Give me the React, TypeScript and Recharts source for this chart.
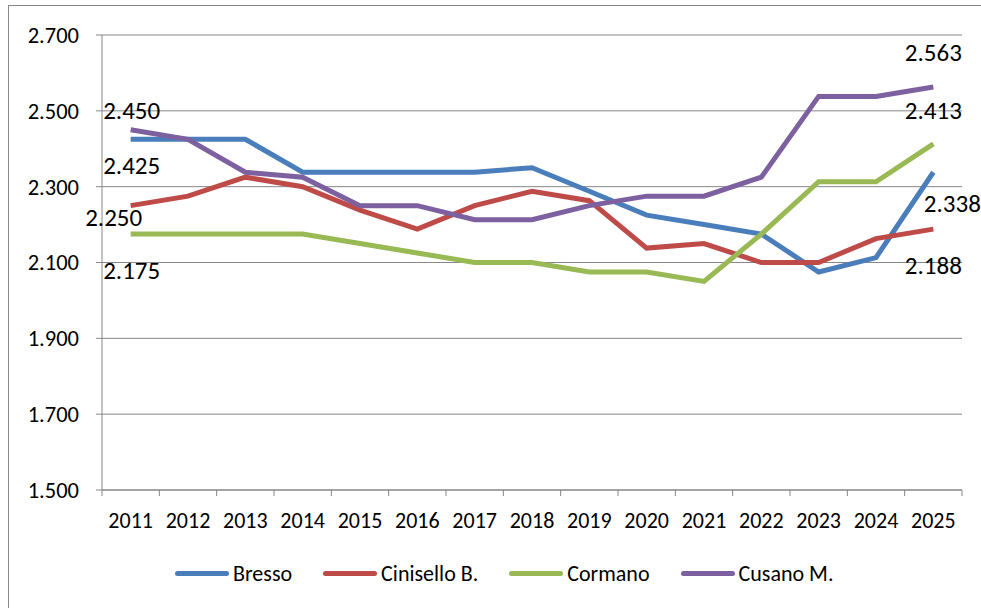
import React from 'react';
import { LineChart, Line, XAxis, YAxis, CartesianGrid, Legend, LabelList } from 'recharts';

const years = ['2011', '2012', '2013', '2014', '2015', '2016', '2017', '2018', '2019', '2020', '2021', '2022', '2023', '2024', '2025'];

const bresso = [2.425, 2.425, 2.425, 2.338, 2.338, 2.338, 2.338, 2.35, 2.288, 2.225, 2.2, 2.175, 2.075, 2.113, 2.338];
const cinisello = [2.25, 2.275, 2.325, 2.3, 2.238, 2.188, 2.25, 2.288, 2.263, 2.138, 2.15, 2.1, 2.1, 2.163, 2.188];
const cormano = [2.175, 2.175, 2.175, 2.175, 2.15, 2.125, 2.1, 2.1, 2.075, 2.075, 2.05, 2.175, 2.313, 2.313, 2.413];
const cusano = [2.45, 2.425, 2.338, 2.325, 2.25, 2.25, 2.213, 2.213, 2.25, 2.275, 2.275, 2.325, 2.538, 2.538, 2.563];

const yTicks = [1.5, 1.7, 1.9, 2.1, 2.3, 2.5, 2.7];

const data = years.map((year, i) => ({
  year,
  bresso: bresso[i],
  cinisello: cinisello[i],
  cormano: cormano[i],
  cusano: cusano[i],
}));

const FONT = 'Carlito, "Liberation Sans", Arial, sans-serif';
const GRID = '#878787';
const PLOT = { left: 102, top: 35, right: 962, bottom: 490 };
const BW = (PLOT.right - PLOT.left) / years.length;

const series = [
  { key: 'bresso', name: 'Bresso', color: '#4A7EBB', first: [1, 26], last: [19, 31] },
  { key: 'cinisello', name: 'Cinisello B.', color: '#BE4B48', first: [-17, 12], last: [0, 36] },
  { key: 'cormano', name: 'Cormano', color: '#98B954', first: [1, 36], last: [0, -33] },
  { key: 'cusano', name: 'Cusano M.', color: '#7D60A0', first: [1, -19], last: [0, -34] },
];

const XTick = (props: any) => {
  const { x, payload, index } = props;
  return (
    <g>
      <line x1={x - BW / 2} x2={x - BW / 2} y1={PLOT.bottom} y2={PLOT.bottom + 6} stroke={GRID} />
      {index === years.length - 1 && (
        <line x1={x + BW / 2} x2={x + BW / 2} y1={PLOT.bottom} y2={PLOT.bottom + 6} stroke={GRID} />
      )}
      <text x={x} y={PLOT.bottom + 38} textAnchor="middle" fontSize={22} fill="#000" fontFamily={FONT}>
        {payload.value}
      </text>
    </g>
  );
};

const endLabel = (first: number[], last: number[]) => (props: any) => {
  const { x, y, value, index } = props;
  const o = index === 0 ? first : index === years.length - 1 ? last : null;
  if (!o) return null;
  return (
    <text x={x + o[0]} y={y + o[1]} textAnchor="middle" dominantBaseline="central" fontSize={25} fill="#000" fontFamily={FONT}>
      {Number(value).toFixed(3)}
    </text>
  );
};

const LegendBox = () => (
  <div style={{ display: 'flex', alignItems: 'center', height: 30, paddingLeft: 175, fontFamily: FONT, fontSize: 22, color: '#000' }}>
    {series.map((s) => (
      <div key={s.key} style={{ display: 'flex', alignItems: 'center', marginRight: 31 }}>
        <div style={{ width: 54, height: 5, borderRadius: 3, background: s.color, marginRight: 4 }} />
        <span>{s.name}</span>
      </div>
    ))}
  </div>
);

export default function App() {
  return (
    <div style={{ position: 'absolute', left: 0, top: 0, width: 981, height: 608, overflow: 'hidden', background: '#fff' }}>
      <div style={{ position: 'absolute', left: 8, top: 5, width: 1000, height: 700, border: `1px solid ${GRID}` }} />
      <div style={{ position: 'absolute', left: 0, top: 0 }}>
        <LineChart width={981} height={608} data={data} margin={{ top: 35, right: 19, left: 8, bottom: 48 }}>
          <CartesianGrid vertical={false} stroke={GRID} strokeWidth={1} />
          <XAxis
            dataKey="year"
            height={40}
            axisLine={{ stroke: GRID }}
            tickLine={false}
            tick={<XTick />}
            interval={0}
            padding={{ left: BW / 2, right: BW / 2 }}
          />
          <YAxis
            width={94}
            domain={[1.5, 2.7]}
            ticks={yTicks}
            axisLine={{ stroke: GRID }}
            tickLine={{ stroke: GRID }}
            tickSize={6}
            tickMargin={17}
            tick={{ fontSize: 22.5, fill: '#000', fontFamily: FONT }}
            tickFormatter={(v: number) => v.toFixed(3)}
          />
          <Legend content={<LegendBox />} wrapperStyle={{ position: 'absolute', left: 0, top: 558, width: 981, height: 30 }} />
          {series.map((s) => (
            <Line
              key={s.key}
              type="linear"
              dataKey={s.key}
              name={s.name}
              stroke={s.color}
              strokeWidth={5}
              dot={false}
              isAnimationActive={false}
            >
              <LabelList dataKey={s.key} content={endLabel(s.first, s.last)} />
            </Line>
          ))}
        </LineChart>
      </div>
    </div>
  );
}
